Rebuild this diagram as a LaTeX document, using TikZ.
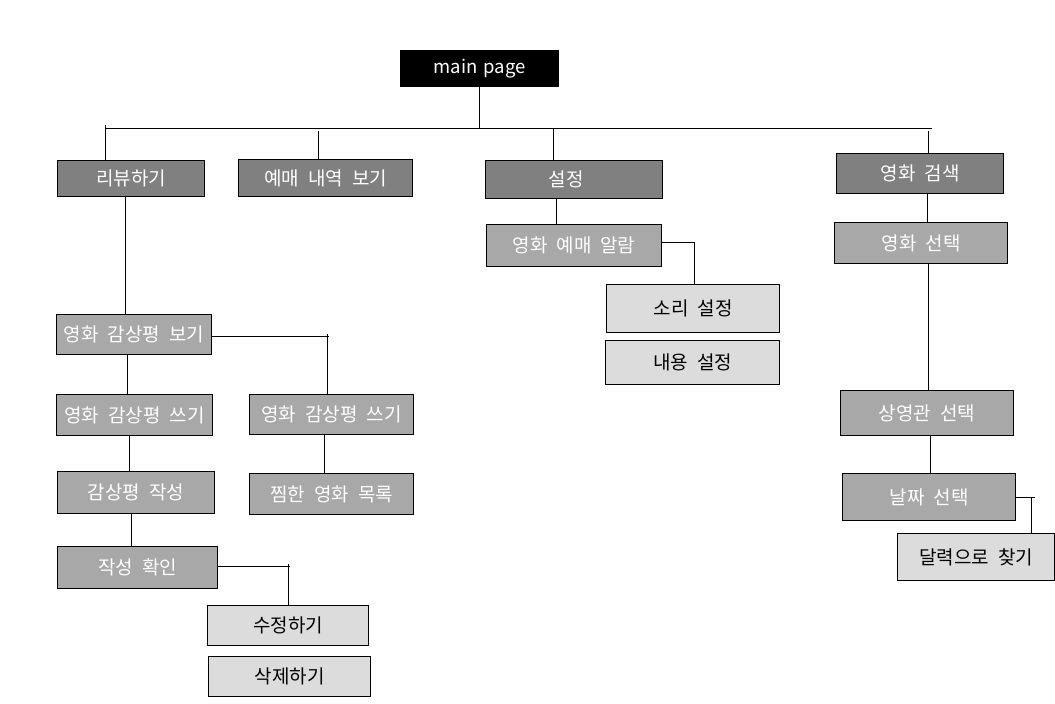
\documentclass[tikz,border=0pt]{standalone}
\usepackage{fontspec}
\setmainfont[WordSpace=2.1]{Noto Sans CJK KR}
\definecolor{cdark}{RGB}{128,128,128}
\definecolor{cmid}{RGB}{168,168,168}
\definecolor{clight}{RGB}{220,220,220}
\tikzset{
  box/.style={draw=black, line width=1.2pt, inner sep=0pt, anchor=north west,
    font=\fontsize{19}{21}\selectfont},
  blackbox/.style={box, fill=black, text=white, font=\fontsize{18.5}{21}\selectfont},
  darkbox/.style={box, fill=cdark, text=white},
  midbox/.style={box, fill=cmid, text=white},
  lightbox/.style={box, fill=clight, text=black},
  con/.style={line width=1pt, black},
}
\begin{document}
\begin{tikzpicture}[x=1pt,y=-1pt]
\useasboundingbox (0,0) rectangle (1055,704);
% boxes
\node[blackbox, minimum width=158, minimum height=36] (main) at (400,50) {main\hspace{6pt}page};
\node[darkbox, minimum width=147, minimum height=36] (review) at (57,160) {리뷰하기};
\node[darkbox, minimum width=174, minimum height=37] (resv) at (238,159) {예매 내역 보기};
\node[darkbox, minimum width=177, minimum height=38] (set) at (485,160) {\hspace*{-16pt}설정};
\node[darkbox, minimum width=167, minimum height=40] (search) at (836,153) {영화 검색};
\node[midbox, minimum width=175, minimum height=42] (alarm) at (486,224) {영화 예매 알람};
\node[midbox, minimum width=173, minimum height=41] (msel) at (834,222) {영화 선택};
\node[lightbox, minimum width=173, minimum height=48] (sound) at (606,284) {소리 설정};
\node[lightbox, minimum width=174, minimum height=44] (content) at (605,340) {내용 설정};
\node[midbox, minimum width=155, minimum height=40] (wview) at (56,314) {영화 감상평 보기};
\node[midbox, minimum width=156, minimum height=41] (write1) at (56,394) {영화 감상평 쓰기};
\node[midbox, minimum width=164, minimum height=40] (write2) at (249,394) {영화 감상평 쓰기};
\node[midbox, minimum width=157, minimum height=42] (compose) at (57,471) {감상평 작성};
\node[midbox, minimum width=164, minimum height=41] (fav) at (249,473) {찜한 영화 목록};
\node[midbox, minimum width=160, minimum height=42] (confirm) at (57,546) {작성 확인};
\node[lightbox, minimum width=161, minimum height=40] (edit) at (207,605) {수정하기};
\node[lightbox, minimum width=162, minimum height=40] (del) at (208,656) {삭제하기};
\node[midbox, minimum width=173, minimum height=45] (theater) at (840,390) {상영관 선택};
\node[midbox, minimum width=173, minimum height=47] (date) at (842,473) {날짜 선택};
\node[lightbox, minimum width=157, minimum height=47] (cal) at (897,533) {달력으로 찾기};
% top bar
\coordinate (hl) at (105,128);
\coordinate (hr) at (932,128);
\coordinate (b2) at (318,131);
\coordinate (b3) at (553,128);
\coordinate (b4) at (928,131);
\draw[con] (main.south) -- (main.south |- hl);
\draw[con] (hl) -- (hr);
\draw[con] ([yshift=3pt]hl) -- (hl |- review.north);
\draw[con] (b2) -- (b2 |- resv.north);
\draw[con] (b3) -- (b3 |- set.north);
\draw[con] (b4) -- (b4 |- search.north);
% settings branch
\coordinate (c1) at (556,198);
\draw[con] (c1) -- (c1 |- alarm.north);
\coordinate (c2) at (694,242);
\draw[con] (alarm.east |- c2) -- (c2) -- (c2 |- sound.north);
% search branch
\coordinate (s1) at (927,193);
\draw[con] (s1) -- (s1 |- msel.north);
\coordinate (s2) at (928,263);
\draw[con] (s2) -- (s2 |- theater.north);
\coordinate (s3) at (930,435);
\draw[con] (s3) -- (s3 |- date.north);
\coordinate (s4) at (1031,497);
\coordinate (s5) at (1035,497);
\draw[con] (date.east |- s4) -- (s5);
\draw[con] (s4) -- (s4 |- cal.north);
% review branch
\coordinate (r1) at (125,196);
\draw[con] (r1) -- (r1 |- wview.north);
\coordinate (r2) at (327,336);
\coordinate (r2e) at (329,336);
\draw[con] (wview.east |- r2) -- (r2e);
\draw[con] ([yshift=2pt]r2) -- (r2 |- write2.north);
\coordinate (r3) at (127,354);
\draw[con] (r3) -- (r3 |- write1.north);
\coordinate (r4) at (129,435);
\draw[con] (r4) -- (r4 |- compose.north);
\coordinate (r5) at (131,513);
\draw[con] (r5) -- (r5 |- confirm.north);
\coordinate (r6) at (288,566);
\coordinate (r6e) at (290,566);
\draw[con] (confirm.east |- r6) -- (r6e);
\draw[con] ([yshift=2pt]r6) -- (r6 |- edit.north);
\coordinate (r7) at (324,434);
\draw[con] (r7) -- (r7 |- fav.north);
\end{tikzpicture}
\end{document}
